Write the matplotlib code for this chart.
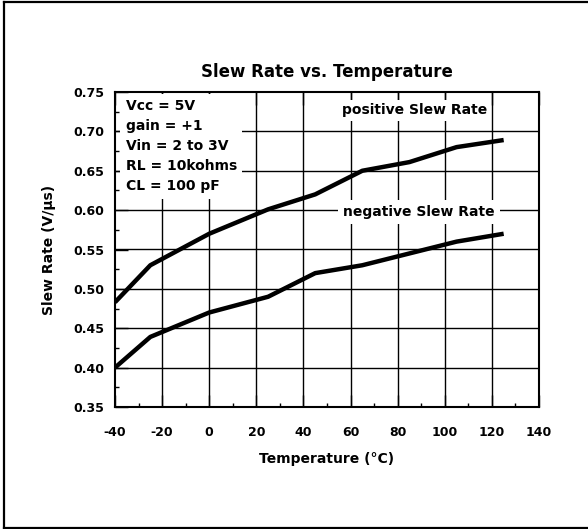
import matplotlib
matplotlib.use("Agg")
import matplotlib.pyplot as plt
from matplotlib.lines import Line2D
import numpy as np

# Slew rate (V/us) against temperature (degC)
temperature = [-40, -25, 0, 25, 45, 65, 85, 105, 125]
positive_sr = [0.483, 0.530, 0.570, 0.601, 0.620, 0.650, 0.661, 0.680, 0.689]
negative_sr = [0.400, 0.439, 0.470, 0.490, 0.520, 0.530, 0.545, 0.560, 0.570]

conditions = ["Vcc = 5V", "gain = +1", "Vin = 2 to 3V", "RL = 10kohms", "CL = 100 pF"]

plt.rcParams['font.family'] = 'DejaVu Sans'
plt.rcParams['font.weight'] = 'bold'
plt.rcParams['axes.unicode_minus'] = False

W, H = 588, 529
fig = plt.figure(figsize=(W / 100, H / 100), dpi=100)
ax = fig.add_axes([115 / W, 1 - 407 / H, 424 / W, 315 / H])

ax.set_xlim(-40, 140)
ax.set_ylim(0.35, 0.75)

# grid drawn by hand so the label boxes can sit between grid and ticks
for xv in np.arange(-20, 140, 20):
    ax.axvline(xv, color='black', lw=1.0, zorder=1)
for yv in np.arange(0.40, 0.75, 0.05):
    ax.axhline(yv, color='black', lw=1.0, zorder=1)

ax.plot(temperature, positive_sr, color='black', lw=3.2, zorder=3, solid_capstyle='butt')
ax.plot(temperature, negative_sr, color='black', lw=3.2, zorder=3, solid_capstyle='butt')

box = dict(facecolor='white', edgecolor='none', pad=2.5)
ax.text(-35.5, 0.741, "\n".join(conditions), ha='left', va='top', fontsize=10,
        fontweight='bold', linespacing=1.55, bbox=dict(facecolor='white', edgecolor='none', pad=4),
        zorder=2)
ax.text(87.3, 0.727, "positive Slew Rate", ha='center', va='center', fontsize=10,
        fontweight='bold', bbox=box, zorder=2)
ax.text(89, 0.598, "negative Slew Rate", ha='center', va='center', fontsize=10,
        fontweight='bold', bbox=dict(facecolor='white', edgecolor='none', pad=3.5), zorder=2)

ax.set_xticks(np.arange(-40, 141, 20))
ax.set_xticks(np.arange(-30, 140, 20), minor=True)
ax.set_yticks(np.arange(0.35, 0.751, 0.05))
ax.set_yticks(np.arange(0.375, 0.75, 0.05), minor=True)
ax.set_yticklabels([f"{v:.2f}" for v in np.arange(0.35, 0.751, 0.05)])

ax.tick_params(axis='both', which='major', direction='in', length=9, width=1.0,
               labelsize=9, top=True, right=False, color='black')
ax.tick_params(axis='x', which='major', pad=14)
ax.tick_params(axis='y', which='major', pad=8)
ax.tick_params(axis='both', which='minor', direction='in', length=3, width=1.0,
               top=False, right=False)
for lab in ax.get_xticklabels() + ax.get_yticklabels():
    lab.set_fontweight('bold')

for sp in ax.spines.values():
    sp.set_linewidth(1.5)
    sp.set_zorder(4)

ax.set_title("Slew Rate vs. Temperature", fontsize=12, fontweight='bold', pad=11)
ax.set_xlabel("Temperature (°C)", fontsize=10, fontweight='bold', labelpad=9)
ax.set_ylabel("Slew Rate (V/µs)", fontsize=10, fontweight='bold', labelpad=12)

# frame around the whole figure
frame_kw = dict(color='black', lw=1.6, transform=None)
fig.add_artist(Line2D([3.5, 3.5], [H - 1.5, H - 527.5], **frame_kw))
fig.add_artist(Line2D([3.5, W + 5], [H - 1.5, H - 1.5], **frame_kw))
fig.add_artist(Line2D([3.5, W + 5], [H - 527.5, H - 527.5], **frame_kw))

fig.savefig("out.png", dpi=100)
